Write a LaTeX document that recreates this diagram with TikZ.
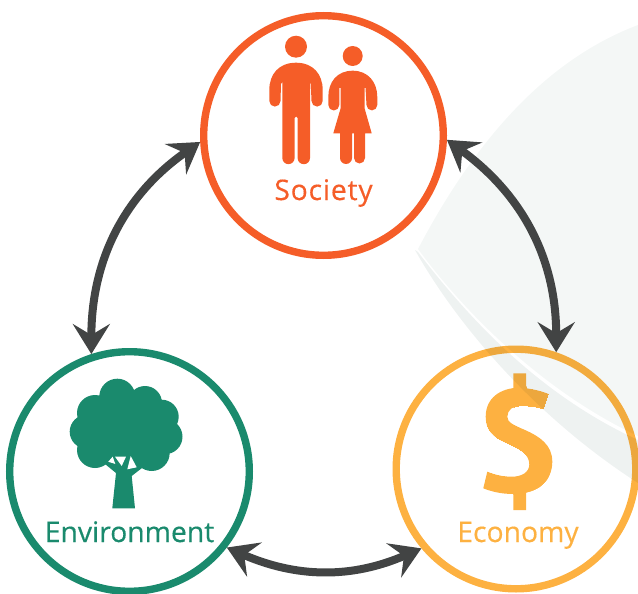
\documentclass[tikz,border=0pt]{standalone}
\usepackage{fontspec}
\usepackage{graphicx}
\setmainfont{Open Sans}
\usetikzlibrary{arrows.meta}
\definecolor{socc}{HTML}{F55D28}
\definecolor{envc}{HTML}{1A8A6D}
\definecolor{ecoc}{HTML}{FDB141}
\definecolor{arrc}{HTML}{424444}
\definecolor{bgpale}{HTML}{F4F7F6}
\definecolor{bgband}{HTML}{EEF2F1}
\tikzset{
  ring/.style={circle,draw=#1,line width=7.4pt,minimum size=239.6pt,inner sep=0pt},
  lab/.style={font=\fontsize{28.3}{32}\selectfont\addfontfeature{FakeBold=0.4},inner sep=0pt,anchor=base},
  link/.style={arrc,line width=8pt,{Stealth[length=30pt,width=37pt,inset=11pt]}-{Stealth[length=30pt,width=37pt,inset=11pt]}},
}
\def\dollarshape{(548.3,394) .. controls (541.7,391) and (530,388.3) .. (520,387.7)
  .. controls (500,387.7) and (485.7,398.3) .. (485.7,416.7)
  .. controls (485.7,430) and (493.3,437.3) .. (505,442.3)
  .. controls (511.7,445.3) and (518.3,448.3) .. (523.3,452.3)
  .. controls (527.3,455.7) and (529.3,460) .. (529.3,464.3)
  .. controls (529.3,472.3) and (521.7,476.7) .. (511.7,476.7)
  .. controls (503.3,476.7) and (495,475) .. (487.3,471.7)
  -- (483.3,488.3)
  .. controls (491.7,491.7) and (501.7,494) .. (513.3,494)
  .. controls (538.3,494) and (552.3,480) .. (552.3,461.7)
  .. controls (552.3,445) and (540,436.7) .. (525,430)
  .. controls (513.3,425) and (507.3,422.3) .. (507.3,416.7)
  .. controls (507.3,410) and (513.3,405.7) .. (520,405.7)
  .. controls (528.3,405.7) and (536.7,406.7) .. (543.3,409) -- cycle
  (526,373.3) -- (513.3,373.3) -- (513.3,395) -- (526,395) -- cycle
  (526,488) -- (513.3,488) -- (513.3,510) -- (526,510) -- cycle}
\begin{document}
\begin{tikzpicture}[x=1pt,y=-1pt]
\useasboundingbox (0,0) rectangle (638,594);
% rings, labels, icons
\node[ring=socc] (soc) at (323.5,135.5) {};
\node[ring=envc] (env) at (129.5,471.5) {};
\node[ring=ecoc] (eco) at (516,469) {};
\node[lab,text=socc] (soct) at (323.5,200) {\addfontfeature{LetterSpace=2.9}Society};
\node[lab,text=envc] (envt) at (129.5,542) {Environment};
\node[lab,text=ecoc] (ecot) at (518,542) {Economy};
% dollar: the glyph, trimmed and completed to the reference's outline
\begin{scope}
\clip \dollarshape;
\node[text=ecoc,inner sep=0pt] (dol) at (518.5,500.5) {\smash{\scalebox{.82}[1]{\fontsize{166}{170}\selectfont\bfseries\$}}};
\end{scope}
\fill[ecoc] \dollarshape;
% man
\fill[socc] (296,46.7) circle (11);
\fill[socc] (296,62.7) .. controls (313,62.7) and (322.7,74) .. (322.7,90) -- (322.7,101)
  arc[start angle=0,end angle=180,radius=5.6] -- (310.8,84) -- (310,82) -- (310,158)
  arc[start angle=0,end angle=180,radius=6.2] -- (297.6,118) arc[start angle=0,end angle=-180,radius=1.5] -- (294.6,158)
  arc[start angle=0,end angle=180,radius=6.15] -- (282.3,82) -- (281,84) -- (280.5,101)
  arc[start angle=0,end angle=180,radius=5.6] -- (269.3,90) .. controls (269.3,74) and (279,62.7) .. (296,62.7) -- cycle;
% woman
\fill[socc] (352.7,56) circle (10);
\fill[socc] (352.7,70.7) .. controls (368,70.7) and (377.3,82) .. (377.3,97) -- (377.3,105)
  arc[start angle=0,end angle=180,radius=5.4] -- (365.5,88) -- (364.5,88) -- (364.5,108) -- (371.7,133.3) -- (365,133.3) -- (365,158)
  arc[start angle=0,end angle=180,radius=5.5] -- (354,133.3) -- (352,133.3) -- (352,158)
  arc[start angle=0,end angle=180,radius=6] -- (340,133.3) -- (333.3,133.3) -- (340.7,108) -- (340.7,88) -- (339.3,88) -- (339.3,105)
  arc[start angle=0,end angle=180,radius=5.5] -- (328.3,97) .. controls (328.3,82) and (337,70.7) .. (352.7,70.7) -- cycle;
% tree
\fill[envc] (117.3,396.7) circle (18) (145,403) circle (17) (95,413) circle (18) (161.7,416.7) circle (17)
  (86.7,431.7) circle (17) (165,436.7) circle (17.5) (95,450) circle (18) (151.7,453) circle (18) (123,427) circle (36);
\fill[envc] (105,464) -- (116,473) -- (112.3,508.3) -- (135,508.3) -- (131.7,476) -- (142,468) -- (135,450) -- (112,450) -- cycle;
\fill[white] (108.3,461.7) -- (112.7,456.7) -- (115.3,464) -- cycle;
\fill[white] (115,456.7) -- (126,456.7) -- (121.7,466) -- cycle;
\fill[white] (130.7,456) -- (136.7,467.3) -- (127.3,469.3) -- cycle;
% background sweep, over the economy ring
\begin{scope}[blend mode=multiply]
\fill[bgband] (415,250) .. controls (460,330) and (540,420) .. (638,483) -- (638,440) .. controls (540,395) and (470,320) .. (418,252) -- cycle;
\fill[bgpale] (418,249) .. controls (470,320) and (550,395) .. (638,436) -- (638,25) .. controls (540,62) and (470,150) .. (418,249) -- cycle;
\end{scope}
% connectors
\draw[link] (soc.183) to[out=215,in=90] (env.108);
\draw[link] (soc.-2) to[out=-36,in=90] (eco.71);
\draw[link] (env.-38) to[out=-23.5,in=203.5] (eco.220);
\end{tikzpicture}
\end{document}
